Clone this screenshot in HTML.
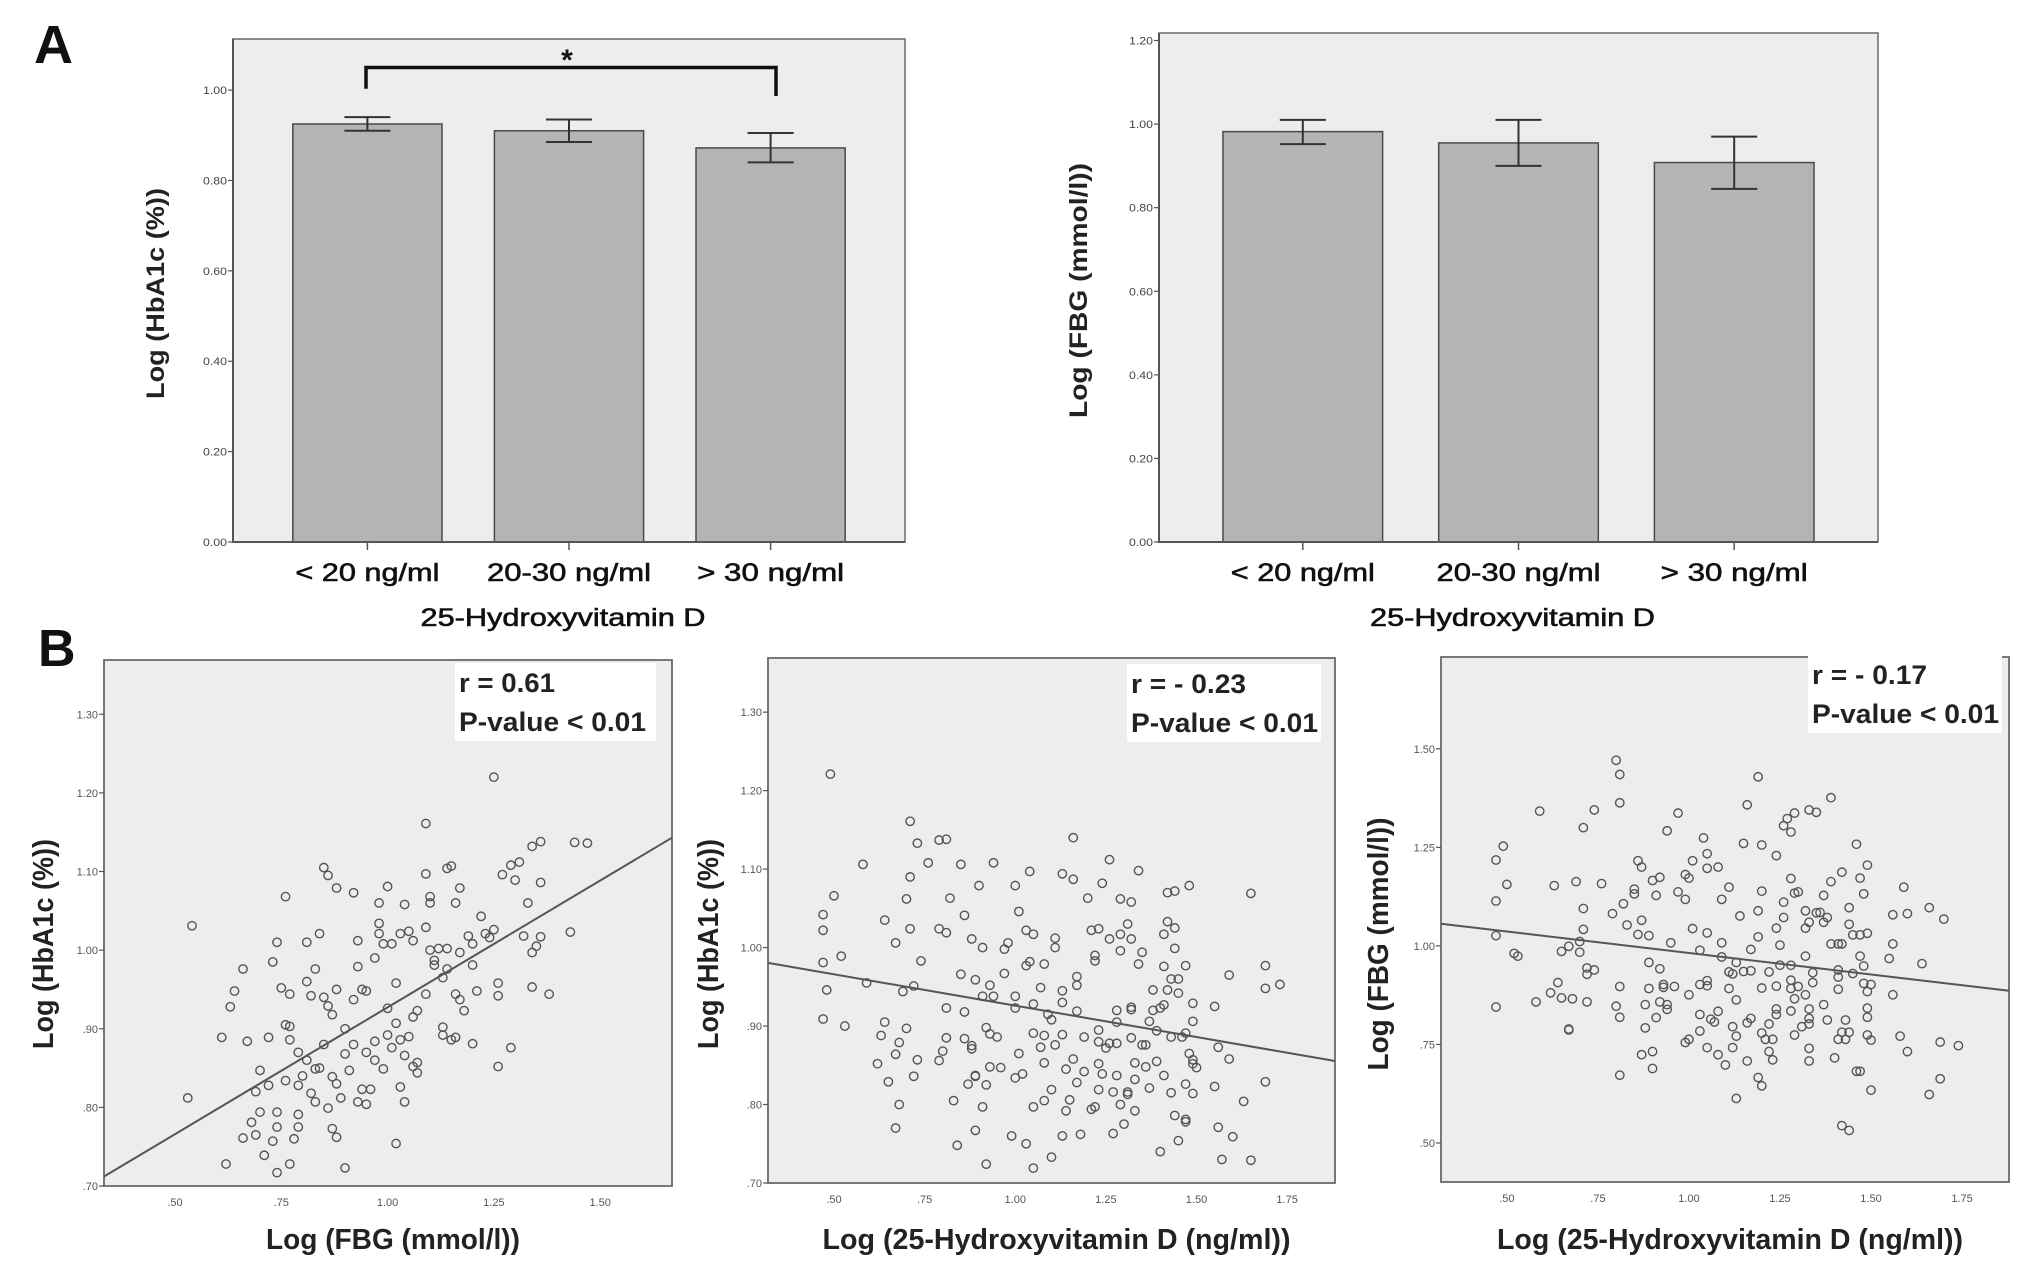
<!DOCTYPE html>
<html><head><meta charset="utf-8">
<style>
html,body{margin:0;padding:0;background:#fff;}
svg{display:block;font-family:"Liberation Sans",sans-serif;}
</style></head>
<body>
<svg id="fig" width="2031" height="1271" viewBox="0 0 2031 1271" xmlns="http://www.w3.org/2000/svg">
<rect x="0" y="0" width="2031" height="1271" fill="#ffffff"/>
<text x="34" y="63" font-size="54" font-weight="bold" fill="#111">A</text>
<text x="38" y="666" font-size="52" font-weight="bold" fill="#111">B</text>
</svg>
<script>
// ---- Bar chart data ----
const barCats = ["< 20 ng/ml", "20-30 ng/ml", "> 30 ng/ml"];
const a1Means = [0.925, 0.910, 0.872];
const a1Lo = [0.910, 0.885, 0.840];
const a1Hi = [0.940, 0.935, 0.905];
const a1Ticks = ["0.00","0.20","0.40","0.60","0.80","1.00"];
const a2Means = [0.982, 0.955, 0.908];
const a2Lo = [0.952, 0.900, 0.845];
const a2Hi = [1.010, 1.010, 0.970];
const a2Ticks = ["0.00","0.20","0.40","0.60","0.80","1.00","1.20"];

// ---- Scatter data ----
const b1Points = [[0.54,1.031],[0.53,0.812],[0.61,0.889],[0.62,0.728],[0.63,0.928],[0.64,0.948],[0.66,0.976],[0.66,0.761],[0.67,0.884],[0.68,0.781],[0.69,0.765],[0.70,0.794],[0.70,0.847],[0.69,0.82],[0.71,0.739],[0.72,0.889],[0.72,0.828],[0.73,0.985],[0.73,0.757],[0.74,1.01],[0.74,0.775],[0.74,0.794],[0.74,0.717],[0.75,0.952],[0.76,0.834],[0.76,0.905],[0.76,1.068],[0.77,0.728],[0.77,0.886],[0.77,0.944],[0.77,0.903],[0.78,0.76],[0.79,0.775],[0.79,0.87],[0.79,0.828],[0.79,0.791],[0.81,1.01],[0.81,0.96],[0.82,0.942],[0.83,0.976],[0.81,0.86],[0.82,0.818],[0.83,0.807],[0.83,0.849],[0.84,1.021],[0.85,0.94],[0.85,1.105],[0.86,1.095],[0.86,0.799],[0.86,0.929],[0.87,0.839],[0.87,0.773],[0.87,0.918],[0.88,1.079],[0.88,0.762],[0.88,0.95],[0.89,0.812],[0.90,0.723],[0.90,0.868],[0.91,0.847],[0.92,0.937],[0.92,1.073],[0.93,1.012],[0.93,0.979],[0.94,0.95],[0.93,0.807],[0.94,0.823],[0.95,0.87],[0.95,0.804],[0.95,0.948],[0.96,0.823],[0.97,0.884],[0.97,0.99],[0.98,1.06],[0.98,1.034],[0.98,1.021],[0.99,0.849],[0.99,1.008],[1.00,1.081],[1.00,0.926],[1.00,0.892],[1.01,0.876],[1.01,1.008],[1.02,0.958],[1.02,0.907],[1.02,0.754],[1.03,0.826],[1.03,0.886],[1.03,1.021],[1.04,0.866],[1.04,1.058],[1.04,0.807],[1.05,1.024],[1.06,0.852],[1.06,1.012],[1.06,0.915],[1.07,0.844],[1.07,0.923],[1.07,0.857],[1.09,1.097],[1.09,1.029],[1.09,0.944],[1.09,1.161],[1.10,1.068],[1.10,1.0],[1.10,1.06],[1.11,0.987],[1.11,0.981],[1.12,1.002],[1.13,0.965],[1.13,0.902],[1.13,0.892],[1.14,1.104],[1.14,1.002],[1.14,0.976],[1.15,0.886],[1.15,1.107],[1.16,1.06],[1.16,0.889],[1.16,0.944],[1.17,1.079],[1.17,0.997],[1.17,0.937],[1.18,0.923],[1.19,1.018],[1.20,0.881],[1.20,0.981],[1.20,1.008],[1.21,0.948],[1.22,1.043],[1.23,1.021],[1.24,1.016],[1.25,1.22],[1.25,1.026],[1.26,0.958],[1.26,0.942],[1.26,0.852],[1.27,1.096],[1.29,1.108],[1.29,0.876],[1.30,1.089],[1.31,1.112],[1.32,1.018],[1.33,1.06],[1.34,0.997],[1.34,1.132],[1.34,0.953],[1.35,1.005],[1.36,1.138],[1.36,1.086],[1.36,1.017],[1.38,0.944],[1.43,1.023],[1.44,1.137],[1.47,1.136],[0.84,0.85],[0.85,0.88],[0.90,0.90],[0.92,0.88],[0.80,0.84],[0.97,0.86],[1.05,0.89],[0.88,0.83]];
const b2Points = [[0.49,1.221],[0.50,1.066],[0.47,1.042],[0.47,1.022],[0.47,0.981],[0.48,0.946],[0.47,0.909],[0.52,0.989],[0.53,0.900],[0.58,1.106],[0.59,0.955],[0.62,0.852],[0.63,0.888],[0.64,1.035],[0.64,0.905],[0.65,0.829],[0.67,1.006],[0.67,0.864],[0.67,0.77],[0.68,0.879],[0.68,0.80],[0.69,0.944],[0.70,0.897],[0.70,1.062],[0.71,1.09],[0.71,1.161],[0.71,1.024],[0.72,0.951],[0.72,0.836],[0.73,0.857],[0.73,1.133],[0.74,0.983],[0.76,1.108],[0.79,1.024],[0.79,0.856],[0.79,1.137],[0.80,0.868],[0.81,0.923],[0.81,0.885],[0.81,1.019],[0.81,1.138],[0.82,1.063],[0.83,0.805],[0.84,0.748],[0.85,0.966],[0.85,1.106],[0.86,1.041],[0.86,0.884],[0.86,0.918],[0.87,0.826],[0.88,0.875],[0.88,0.871],[0.88,1.011],[0.89,0.959],[0.89,0.836],[0.89,0.767],[0.89,0.837],[0.90,1.079],[0.91,1.0],[0.91,0.938],[0.91,0.797],[0.92,0.898],[0.92,0.724],[0.92,0.825],[0.93,0.952],[0.93,0.89],[0.94,1.108],[0.94,0.938],[0.93,0.848],[0.95,0.886],[0.96,0.847],[0.97,0.998],[0.97,0.967],[0.98,1.006],[0.99,0.76],[1.00,0.834],[1.00,1.079],[1.00,0.938],[1.00,0.923],[1.01,1.046],[1.01,0.865],[1.02,0.839],[1.03,1.022],[1.03,0.977],[1.03,0.75],[1.04,0.982],[1.04,1.097],[1.05,1.017],[1.05,0.891],[1.05,0.797],[1.05,0.928],[1.05,0.719],[1.07,0.873],[1.07,0.949],[1.08,0.888],[1.08,0.853],[1.08,0.805],[1.08,0.979],[1.09,0.915],[1.10,0.819],[1.10,0.733],[1.10,0.908],[1.11,0.876],[1.11,1.0],[1.11,1.012],[1.13,0.945],[1.13,0.889],[1.13,0.76],[1.13,0.93],[1.13,1.094],[1.14,0.792],[1.14,0.845],[1.15,0.806],[1.16,1.14],[1.16,1.087],[1.16,0.858],[1.17,0.828],[1.17,0.963],[1.17,0.952],[1.17,0.919],[1.18,0.762],[1.19,0.842],[1.19,0.886],[1.20,1.063],[1.21,0.794],[1.21,1.022],[1.22,0.99],[1.22,0.983],[1.22,0.797],[1.23,0.819],[1.23,0.852],[1.23,0.895],[1.23,0.880],[1.23,1.024],[1.24,0.839],[1.24,1.082],[1.25,0.872],[1.26,0.878],[1.26,1.011],[1.26,1.112],[1.27,0.763],[1.27,0.816],[1.28,0.905],[1.28,0.878],[1.28,0.92],[1.28,0.837],[1.29,1.062],[1.29,0.80],[1.29,1.017],[1.29,0.996],[1.30,0.775],[1.31,0.816],[1.31,0.813],[1.31,1.03],[1.32,0.885],[1.32,0.921],[1.32,0.924],[1.32,1.058],[1.32,1.011],[1.33,0.853],[1.33,0.792],[1.33,0.832],[1.34,0.979],[1.34,1.098],[1.35,0.994],[1.35,0.876],[1.36,0.876],[1.36,0.848],[1.37,0.906],[1.37,0.821],[1.38,0.92],[1.38,0.946],[1.39,0.894],[1.39,0.855],[1.40,0.74],[1.40,0.923],[1.41,0.837],[1.41,0.927],[1.41,0.976],[1.41,1.017],[1.42,1.033],[1.42,1.07],[1.42,0.946],[1.43,0.886],[1.43,0.96],[1.43,0.815],[1.44,0.999],[1.44,0.786],[1.44,1.025],[1.44,1.072],[1.45,0.754],[1.45,0.96],[1.45,0.942],[1.46,0.886],[1.47,0.781],[1.47,0.778],[1.47,0.977],[1.47,0.891],[1.47,0.826],[1.48,0.865],[1.48,1.079],[1.49,0.929],[1.49,0.906],[1.49,0.857],[1.49,0.852],[1.49,0.814],[1.50,0.847],[1.55,0.925],[1.55,0.823],[1.56,0.771],[1.56,0.873],[1.57,0.73],[1.59,0.965],[1.59,0.858],[1.60,0.759],[1.63,0.804],[1.65,1.069],[1.65,0.729],[1.69,0.977],[1.69,0.829],[1.69,0.948],[1.73,0.953]];
const b3Points = [[0.47,1.218],[0.49,1.253],[0.50,1.156],[0.47,1.114],[0.47,1.026],[0.47,0.845],[0.52,0.981],[0.53,0.974],[0.58,0.858],[0.59,1.342],[0.62,0.881],[0.63,1.153],[0.64,0.907],[0.65,0.986],[0.65,0.868],[0.67,0.999],[0.67,0.787],[0.67,0.789],[0.68,0.866],[0.69,1.163],[0.70,0.984],[0.70,1.011],[0.71,1.30],[0.71,1.095],[0.71,1.042],[0.72,0.928],[0.72,0.858],[0.72,0.944],[0.74,1.345],[0.74,0.939],[0.76,1.158],[0.79,1.082],[0.80,1.471],[0.80,0.847],[0.81,0.819],[0.81,0.897],[0.81,1.363],[0.81,1.435],[0.81,0.672],[0.82,1.107],[0.83,1.053],[0.85,1.132],[0.85,1.144],[0.86,1.216],[0.86,1.029],[0.87,1.065],[0.87,1.20],[0.88,0.851],[0.88,0.792],[0.87,0.724],[0.89,0.958],[0.89,1.026],[0.89,0.892],[0.90,0.732],[0.90,1.166],[0.90,0.689],[0.91,1.128],[0.91,0.818],[0.92,0.858],[0.92,1.174],[0.92,0.942],[0.93,0.902],[0.93,0.895],[0.94,0.851],[0.94,0.839],[0.94,1.292],[0.96,0.897],[0.95,1.008],[0.97,1.137],[0.97,1.337],[0.99,0.755],[0.99,1.181],[0.99,1.118],[1.00,0.763],[1.00,1.172],[1.00,0.876],[1.01,1.216],[1.01,1.044],[1.03,0.902],[1.03,0.989],[1.03,0.826],[1.03,0.784],[1.04,1.274],[1.05,1.197],[1.05,1.234],[1.05,1.033],[1.05,0.742],[1.05,0.912],[1.06,0.814],[1.05,0.899],[1.07,0.807],[1.08,0.724],[1.08,1.20],[1.08,0.834],[1.09,1.008],[1.09,1.118],[1.09,0.972],[1.10,0.698],[1.11,0.934],[1.11,0.892],[1.11,1.149],[1.12,0.929],[1.12,0.795],[1.13,0.771],[1.12,0.742],[1.13,0.613],[1.13,0.958],[1.13,0.863],[1.14,1.076],[1.15,0.935],[1.15,1.26],[1.16,1.358],[1.16,0.805],[1.16,0.708],[1.17,0.991],[1.17,0.937],[1.17,0.816],[1.19,0.666],[1.19,1.429],[1.19,1.089],[1.19,1.023],[1.20,0.893],[1.20,1.256],[1.20,0.645],[1.20,0.779],[1.20,1.139],[1.21,0.763],[1.22,0.934],[1.22,0.802],[1.22,0.732],[1.23,0.711],[1.23,0.763],[1.24,1.045],[1.24,1.229],[1.24,0.898],[1.24,0.84],[1.24,0.826],[1.25,1.002],[1.25,0.951],[1.26,1.111],[1.26,1.072],[1.26,1.305],[1.27,1.323],[1.28,0.913],[1.28,0.835],[1.28,1.289],[1.28,1.171],[1.28,0.892],[1.28,0.951],[1.29,1.134],[1.29,0.774],[1.29,1.337],[1.29,0.866],[1.30,1.137],[1.30,0.897],[1.31,0.795],[1.32,1.089],[1.32,0.974],[1.32,0.876],[1.32,1.045],[1.33,1.345],[1.33,0.816],[1.33,0.74],[1.33,0.708],[1.33,0.84],[1.33,1.06],[1.33,0.802],[1.34,0.932],[1.34,0.907],[1.35,1.339],[1.35,1.084],[1.36,1.085],[1.37,0.851],[1.37,1.06],[1.37,1.128],[1.38,0.812],[1.38,1.072],[1.39,1.376],[1.39,1.163],[1.39,1.005],[1.40,0.716],[1.41,0.89],[1.41,1.005],[1.41,0.921],[1.41,0.939],[1.41,0.763],[1.42,1.187],[1.42,1.005],[1.42,0.544],[1.42,0.781],[1.43,0.763],[1.43,0.812],[1.44,0.532],[1.44,0.781],[1.44,1.097],[1.44,1.055],[1.45,0.93],[1.45,1.028],[1.46,1.258],[1.46,0.682],[1.47,0.974],[1.47,1.028],[1.47,0.682],[1.47,1.172],[1.48,1.132],[1.48,0.905],[1.48,0.949],[1.49,0.884],[1.49,1.205],[1.49,0.774],[1.49,0.842],[1.49,0.819],[1.49,1.032],[1.50,0.761],[1.50,0.902],[1.50,0.634],[1.55,0.968],[1.56,1.079],[1.56,0.876],[1.56,1.005],[1.58,0.771],[1.59,1.149],[1.60,1.082],[1.60,0.732],[1.64,0.955],[1.66,1.097],[1.66,0.623],[1.69,0.756],[1.69,0.663],[1.70,1.068],[1.74,0.747]];
const b1Fit = [0.6046, 0.3226];   // intercept, slope
const b2Fit = [1.006, -0.080];
const b3Fit = [1.091, -0.109];
const b1XTicks = [".50",".75","1.00","1.25","1.50"];
const b1YTicks = [".70",".80",".90","1.00","1.10","1.20","1.30"];
const b2XTicks = [".50",".75","1.00","1.25","1.50","1.75"];
const b2YTicks = [".70",".80",".90","1.00","1.10","1.20","1.30"];
const b3XTicks = [".50",".75","1.00","1.25","1.50","1.75"];
const b3YTicks = [".50",".75","1.00","1.25","1.50"];
const b1Stats = ["r = 0.61", "P-value < 0.01"];
const b2Stats = ["r = - 0.23", "P-value < 0.01"];
const b3Stats = ["r = - 0.17", "P-value < 0.01"];

const NS = "http://www.w3.org/2000/svg";
const svg = document.getElementById("fig");
function mk(tag, attrs, parent) {
  const e = document.createElementNS(NS, tag);
  for (const k in attrs) e.setAttribute(k, attrs[k]);
  (parent || svg).appendChild(e);
  return e;
}
function txt(s, attrs, parent) { const t = mk("text", attrs, parent); t.textContent = s; return t; }
function tickVal(s) { return parseFloat(s.charAt(0) === "." ? "0" + s : s); }

function barChart(name, box, yMax, means, lo, hi, ticks, ylab, ylabLen, cx) {
  const g = mk("g", {});
  
  
  const ys = v => box.b - (v / yMax) * (box.b - box.t);
  const W = box.r - box.l;
  const bg = mk("rect", {x: box.l, y: box.t, width: W, height: box.b - box.t, fill: "#ededed", stroke: "#6a6a6a", "stroke-width": 1.5}, g);
  
  
  ticks.forEach(t => {
    const v = tickVal(t), y = ys(v);
    const tk = mk("line", {x1: box.l - 5, x2: box.l, y1: y, y2: y, stroke: "#555", "stroke-width": 1.2}, g);
    
    
    const tl = txt(t, {x: box.l - 6, y: y + 4, "font-size": 11, fill: "#444", "text-anchor": "end", textLength: 24, lengthAdjust: "spacingAndGlyphs"}, g);
    
    
  });
  const bw = W * 0.222;
  const catW = [144, 164, 147];
  barCats.forEach((c, i) => {
    const x = box.l + W * 0.2 + i * W * 0.3;
    const r = mk("rect", {x: x - bw / 2, y: ys(means[i]), width: bw, height: box.b - ys(means[i]), fill: "#b4b4b4", stroke: "#4a4a4a", "stroke-width": 1.5}, g);
    
    
    const eb = mk("path", {d: `M${x-23},${ys(hi[i])}H${x+23}M${x},${ys(hi[i])}V${ys(lo[i])}M${x-23},${ys(lo[i])}H${x+23}`, stroke: "#333", "stroke-width": 2, fill: "none"}, g);
    
    
    const ct = mk("line", {x1: x, x2: x, y1: box.b, y2: box.b + 8, stroke: "#555", "stroke-width": 1.5}, g);
    
    
    const cl = txt(c, {x: x, y: 581, "font-size": 25, fill: "#111", stroke: "#111", "stroke-width": 0.6, "text-anchor": "middle", textLength: catW[i], lengthAdjust: "spacingAndGlyphs"}, g);
    
    
  });
  const ax = mk("path", {d: `M${box.l},${box.t}V${box.b}H${box.r}`, stroke: "#555", "stroke-width": 2, fill: "none"}, g);
  
  
  const xt = txt("25-Hydroxyvitamin D", {x: (box.l + box.r) / 2 - 6, y: 626, "font-size": 25, fill: "#111", stroke: "#111", "stroke-width": 0.6, "text-anchor": "middle", textLength: 285, lengthAdjust: "spacingAndGlyphs"}, g);
  
  
  const yt = txt(ylab, {x: 0, y: 0, "font-size": 25, "font-weight": "bold", fill: "#222", "text-anchor": "middle", textLength: ylabLen, lengthAdjust: "spacingAndGlyphs", transform: `translate(${cx},${(box.t + box.b) / 2 + 3}) rotate(-90)`}, g);
  
  
  return {g, ys};
}

const A1 = barChart("bar-chart-hba1c", {l: 233, t: 39, r: 905, b: 542}, 1.113, a1Means, a1Lo, a1Hi, a1Ticks, "Log (HbA1c (%))", 211, 164);
// significance bracket
const brY = A1.ys(1.05);
const br = mk("path", {d: `M366,${A1.ys(1.003)}V${brY}H776V${A1.ys(0.987)}`, stroke: "#111", "stroke-width": 3.5, fill: "none"}, A1.g);


const star = txt("*", {x: 567, y: 70, "font-size": 30, "font-weight": "bold", fill: "#111", "text-anchor": "middle"}, A1.g);



barChart("bar-chart-fbg", {l: 1159, t: 33, r: 1878, b: 542}, 1.218, a2Means, a2Lo, a2Hi, a2Ticks, "Log (FBG (mmol/l))", 255, 1087);

function scatter(name, box, xd, yd, pts, fit, xTicks, yTicks, stats, statBox, xlab, xlabLen, ylab, ylabLen, ycx) {
  const g = mk("g", {});
  
  
  const xs = v => box.l + (v - xd[0]) / (xd[1] - xd[0]) * (box.r - box.l);
  const ys = v => box.b - (v - yd[0]) / (yd[1] - yd[0]) * (box.b - box.t);
  const bg = mk("rect", {x: box.l, y: box.t, width: box.r - box.l, height: box.b - box.t, fill: "#ededed", stroke: "#6a6a6a", "stroke-width": 1.8}, g);
  
  
  yTicks.forEach(t => {
    const y = ys(tickVal(t));
    const tk = mk("line", {x1: box.l - 5, x2: box.l, y1: y, y2: y, stroke: "#555", "stroke-width": 1.2}, g);
    
    
    const tl = txt(t, {x: box.l - 6, y: y + 4, "font-size": 11, fill: "#555", "text-anchor": "end"}, g);
    
    
  });
  xTicks.forEach(t => {
    const x = xs(tickVal(t));
    const tl = txt(t, {x: x, y: box.b + 20, "font-size": 11, fill: "#555", "text-anchor": "middle"}, g);
    
    
  });
  pts.forEach(p => {
    const c = mk("circle", {cx: xs(p[0]), cy: ys(p[1]), r: 4.2, fill: "none", stroke: "#555", "stroke-width": 1.4}, g);
    
    
  });
  const ln = mk("line", {x1: xs(xd[0]), y1: ys(fit[0] + fit[1] * xd[0]), x2: xs(xd[1]), y2: ys(fit[0] + fit[1] * xd[1]), stroke: "#555", "stroke-width": 2}, g);
  
  
  const sb = mk("rect", {x: statBox.x, y: statBox.y, width: statBox.w, height: statBox.h, fill: "#ffffff"}, g);
  
  
  const s1 = txt(stats[0], {x: statBox.x + 4, y: statBox.y + 29, "font-size": 27, "font-weight": "bold", fill: "#222", textLength: statBox.l1, lengthAdjust: "spacingAndGlyphs"}, g);
  
  
  const s2 = txt(stats[1], {x: statBox.x + 4, y: statBox.y + 68, "font-size": 27, "font-weight": "bold", fill: "#222", textLength: 187, lengthAdjust: "spacingAndGlyphs"}, g);
  
  
  const xt = txt(xlab, {x: (box.l + box.r) / 2 + 5, y: 1249, "font-size": 29, "font-weight": "bold", fill: "#222", "text-anchor": "middle", textLength: xlabLen, lengthAdjust: "spacingAndGlyphs"}, g);
  
  
  const yt = txt(ylab, {x: 0, y: 0, "font-size": 29, "font-weight": "bold", fill: "#222", "text-anchor": "middle", textLength: ylabLen, lengthAdjust: "spacingAndGlyphs", transform: `translate(${ycx},944) rotate(-90)`}, g);
  
  
}

scatter("scatter-fbg-hba1c", {l: 104, t: 660, r: 672, b: 1186}, [0.333, 1.669], [0.70, 1.369], b1Points, b1Fit, b1XTicks, b1YTicks, b1Stats,
  {x: 455, y: 663, w: 201, h: 78, l1: 96}, "Log (FBG (mmol/l))", 254, "Log (HbA1c (%))", 210, 53);
scatter("scatter-vitd-hba1c", {l: 768, t: 658, r: 1335, b: 1183}, [0.318, 1.882], [0.70, 1.369], b2Points, b2Fit, b2XTicks, b2YTicks, b2Stats,
  {x: 1127, y: 664, w: 194, h: 78, l1: 115}, "Log (25-Hydroxyvitamin D (ng/ml))", 468, "Log (HbA1c (%))", 210, 718);
scatter("scatter-vitd-fbg", {l: 1441, t: 657, r: 2009, b: 1182}, [0.319, 1.879], [0.401, 1.733], b3Points, b3Fit, b3XTicks, b3YTicks, b3Stats,
  {x: 1808, y: 655, w: 194, h: 78, l1: 115}, "Log (25-Hydroxyvitamin D (ng/ml))", 466, "Log (FBG (mmol/l))", 253, 1388);
</script>
</body></html>
